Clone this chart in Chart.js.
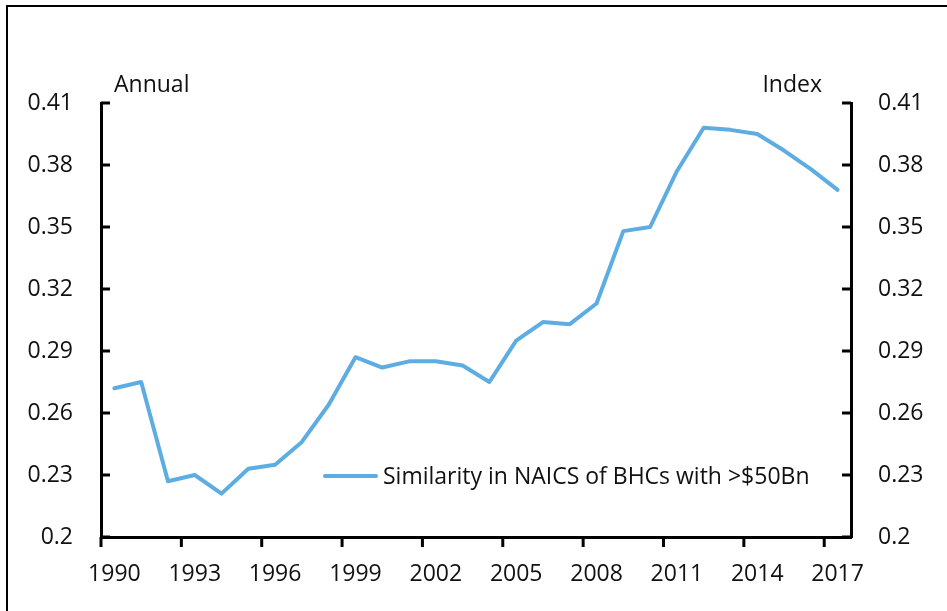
<!DOCTYPE html>
<html>
<head>
<meta charset="utf-8">
<title>Similarity in NAICS of BHCs</title>
<script src="https://cdn.jsdelivr.net/npm/chart.js@4.4.1/dist/chart.umd.min.js"></script>
<style>
    html, body { margin: 0; padding: 0; background: #fff; }
    #wrap { position: relative; width: 947px; height: 611px; overflow: hidden; }
    #frame {
        position: absolute; left: 6px; top: 5px; width: 960px; height: 620px;
        border-left: 2px solid #000; border-top: 2px solid #000;
    }
    #chart { position: absolute; left: 0; top: 0; }
</style>
</head>
<body>
<div id="wrap">
    <div id="frame"></div>
    <canvas id="chart" width="947" height="611"></canvas>
</div>
<script>
// ---------- 数据 ----------
const years = ['1990', '1991', '1992', '1993', '1994', '1995', '1996', '1997', '1998', '1999',
    '2000', '2001', '2002', '2003', '2004', '2005', '2006', '2007', '2008', '2009',
    '2010', '2011', '2012', '2013', '2014', '2015', '2016', '2017'];
const similarity = [0.272, 0.275, 0.227, 0.230, 0.221, 0.233, 0.235, 0.246, 0.264, 0.287,
    0.282, 0.285, 0.285, 0.283, 0.275, 0.295, 0.304, 0.303, 0.313, 0.348,
    0.350, 0.377, 0.398, 0.397, 0.395, 0.387, 0.378, 0.368];
const yTickValues = [0.2, 0.23, 0.26, 0.29, 0.32, 0.35, 0.38, 0.41];
const seriesName = 'Similarity in NAICS of BHCs with >$50Bn';
const leftUnit = 'Annual';
const rightUnit = 'Index';

const FONT = '"Open Sans", sans-serif';
const TEXT = '#111';
const LINE = '#5DADE2';

Chart.defaults.font.family = FONT;
Chart.defaults.font.size = 23;
Chart.defaults.color = TEXT;

// 内侧刻度线 + 单位文字 + 图例
const decorations = {
    id: 'decorations',
    afterDraw(chart) {
        const { ctx, chartArea: a, scales } = chart;
        const x = scales.x, y = scales.y;
        ctx.save();
        ctx.strokeStyle = '#000';
        ctx.lineWidth = 3;
        ctx.lineCap = 'butt';

        // y 轴刻度（朝内）
        y.ticks.forEach(t => {
            const py = y.getPixelForValue(t.value);
            ctx.beginPath();
            ctx.moveTo(a.left, py); ctx.lineTo(a.left + 9, py);
            ctx.moveTo(a.right, py); ctx.lineTo(a.right - 9, py);
            ctx.stroke();
        });

        // x 轴刻度（朝下，分类边界，每三年一个）
        const half = (x.getPixelForValue(1) - x.getPixelForValue(0)) / 2;
        for (let i = 0; i < years.length; i += 3) {
            const px = x.getPixelForValue(i) - half;
            ctx.beginPath();
            ctx.moveTo(px, a.bottom); ctx.lineTo(px, a.bottom + 10);
            ctx.stroke();
        }

        // 单位
        ctx.fillStyle = TEXT;
        ctx.font = '23px ' + FONT;
        ctx.textBaseline = 'alphabetic';
        ctx.textAlign = 'left';
        ctx.fillText(leftUnit, a.left + 13, a.top - 11);
        ctx.textAlign = 'right';
        ctx.fillText(rightUnit, a.right - 29, a.top - 11);

        // 图例
        const ly = y.getPixelForValue(0.23);
        const lx = a.left + 224;
        ctx.strokeStyle = LINE;
        ctx.lineWidth = 4;
        ctx.lineCap = 'round';
        ctx.beginPath();
        ctx.moveTo(lx, ly + 1); ctx.lineTo(lx + 51, ly + 1);
        ctx.stroke();
        ctx.textAlign = 'left';
        ctx.textBaseline = 'middle';
        ctx.fillText(seriesName, lx + 58, ly + 2);
        ctx.restore();
    }
};

const setTicks = scale => {
    scale.ticks = yTickValues.map(v => ({ value: v }));
};
const fmt = v => String(+v.toFixed(2));

new Chart(document.getElementById('chart'), {
    type: 'line',
    data: {
        labels: years,
        datasets: [{
            label: seriesName,
            data: similarity,
            borderColor: LINE,
            borderWidth: 4,
            pointRadius: 0,
            tension: 0,
            borderJoinStyle: 'round',
            borderCapStyle: 'round',
            yAxisID: 'y',
        }]
    },
    options: {
        responsive: false,
        animation: false,
        layout: { padding: { top: 103, left: 0, right: 0, bottom: 0 } },
        plugins: {
            legend: { display: false },
            tooltip: { enabled: false }
        },
        scales: {
            x: {
                type: 'category',
                offset: true,
                grid: { display: false, drawTicks: false, tickLength: 0 },
                border: { display: true, color: '#000', width: 3 },
                ticks: {
                    autoSkip: false,
                    maxRotation: 0,
                    padding: 24,
                    callback: (v, i) => (i % 3 === 0 ? years[i] : '')
                },
                afterFit: s => { s.height = 74; }
            },
            y: {
                position: 'left',
                min: 0.2,
                max: 0.41,
                afterBuildTicks: setTicks,
                grid: { display: false, drawTicks: false, tickLength: 0 },
                border: { display: true, color: '#000', width: 3 },
                ticks: { padding: 28, callback: fmt },
                afterFit: s => { s.width = 101; }
            },
            y2: {
                position: 'right',
                min: 0.2,
                max: 0.41,
                afterBuildTicks: setTicks,
                grid: { display: false, drawTicks: false, tickLength: 0 },
                border: { display: true, color: '#000', width: 3 },
                ticks: { padding: 27, callback: fmt },
                afterFit: s => { s.width = 96; }
            }
        }
    },
    plugins: [decorations]
});
</script>
</body>
</html>
